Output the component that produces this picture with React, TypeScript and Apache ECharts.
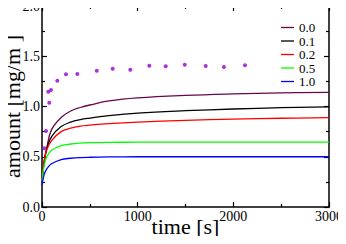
import React, { useEffect, useRef } from "react";
import * as echarts from "echarts";

const curveTimes = [0, 10, 25, 50, 100, 200, 300, 400, 500, 700, 1000, 1500, 2000, 2500, 3000];
const curve00 = [0.27, 0.36, 0.47, 0.59, 0.77, 0.89, 0.955, 0.99, 1.015, 1.055, 1.085, 1.11, 1.125, 1.135, 1.141];
const curve01 = [0.27, 0.36, 0.46, 0.58, 0.70, 0.80, 0.845, 0.87, 0.885, 0.91, 0.935, 0.958, 0.975, 0.988, 0.996];
const curve02 = [0.27, 0.37, 0.47, 0.57, 0.66, 0.75, 0.785, 0.805, 0.815, 0.83, 0.845, 0.862, 0.874, 0.883, 0.889];
const curve05 = [0.26, 0.34, 0.42, 0.50, 0.565, 0.61, 0.627, 0.636, 0.64, 0.643, 0.645, 0.645, 0.645, 0.645, 0.645];
const curve10 = [0.22, 0.27, 0.33, 0.38, 0.43, 0.472, 0.485, 0.492, 0.495, 0.498, 0.5, 0.5, 0.5, 0.5, 0.5];

const dotTimes = [24, 42, 66, 76, 94, 160, 251, 369, 572, 739, 923, 1122, 1293, 1492, 1711, 1902, 2122];
const dotValues = [0.584, 0.756, 1.147, 1.038, 1.164, 1.257, 1.32, 1.323, 1.356, 1.376, 1.366, 1.406, 1.4, 1.416, 1.403, 1.393, 1.41];

const legendNames = ["0.0", "0.1", "0.2", "0.5", "1.0"];
const curveColors = ["#670748", "#000000", "#ff0000", "#00ff00", "#0000ff"];
const curves = [curve00, curve01, curve02, curve05, curve10];

const FONT = "'Liberation Serif', 'Times New Roman', serif";

export default function App() {
  const ref = useRef<HTMLDivElement>(null);
  useEffect(() => {
    if (!ref.current) return;
    const chart = echarts.init(ref.current, undefined, { renderer: "svg" });
    const axisCommon = {
      type: "value" as const,
      axisLine: { show: true, onZero: false, lineStyle: { color: "#000", width: 1.5 } },
      axisTick: { show: true, inside: true, length: 5, lineStyle: { color: "#000", width: 1.2 } },
      minorTick: { show: true, splitNumber: 2, length: 3, lineStyle: { color: "#000", width: 1.2 } },
      splitLine: { show: false },
    };
    chart.setOption({
      animation: false,
      backgroundColor: "#fff",
      grid: { left: 42, right: 17, top: 6, bottom: 37, containLabel: false, outerBoundsMode: "none" },
      legend: {
        data: legendNames,
        orient: "vertical",
        left: 281,
        top: 21,
        icon: "path://M0,0 H13 V1.3 H0 Z",
        itemWidth: 13,
        itemHeight: 11,
        itemGap: 0.5,
        textStyle: { fontFamily: FONT, fontSize: 13, color: "#000", padding: [0, 0, 0, 0], lineHeight: 11 },
        padding: 0,
      },
      xAxis: [
        {
          ...axisCommon,
          position: "bottom",
          min: 0,
          max: 3000,
          interval: 1000,
          name: "time [s]",
          nameLocation: "middle",
          nameGap: 8,
          nameMoveOverlap: false,
          nameTextStyle: { fontFamily: FONT, fontSize: 22, color: "#000", verticalAlign: "top" },
          axisLabel: {
            fontFamily: FONT,
            fontSize: 14,
            color: "#000",
            margin: 2,
            formatter: (v: number) => String(v),
          },
        },
        {
          ...axisCommon,
          position: "top",
          min: 0,
          max: 3000,
          interval: 1000,
          axisLabel: { show: false },
        },
      ],
      yAxis: [
        {
          ...axisCommon,
          position: "left",
          min: 0,
          max: 2,
          interval: 0.5,
          name: "amount [mg/m ]",
          nameLocation: "middle",
          nameGap: 19,
          nameRotate: 90,
          nameMoveOverlap: false,
          nameTextStyle: { fontFamily: FONT, fontSize: 22, color: "#000" },
          axisLabel: {
            fontFamily: FONT,
            fontSize: 14,
            color: "#000",
            margin: 2,
            formatter: (v: number) => v.toFixed(1),
          },
        },
        {
          ...axisCommon,
          position: "right",
          min: 0,
          max: 2,
          interval: 0.5,
          axisLabel: { show: false },
        },
      ],
      series: [
        ...curves.map((c, i) => ({
          name: legendNames[i],
          type: "line",
          data: curveTimes.map((t, j) => [t, c[j]]),
          smooth: 0.4,
          symbol: "none",
          lineStyle: { color: curveColors[i], width: 1.3 },
          itemStyle: { color: curveColors[i] },
          z: 3,
        })),
        {
          name: "data",
          type: "scatter",
          data: dotTimes.map((t, j) => [t, dotValues[j]]),
          symbol: "circle",
          symbolSize: 4,
          itemStyle: { color: "#9400d3" },
          z: 4,
        },
      ],
    });
    return () => chart.dispose();
  }, []);
  return <div ref={ref} style={{ width: 346, height: 244, margin: -8 }} />;
}
